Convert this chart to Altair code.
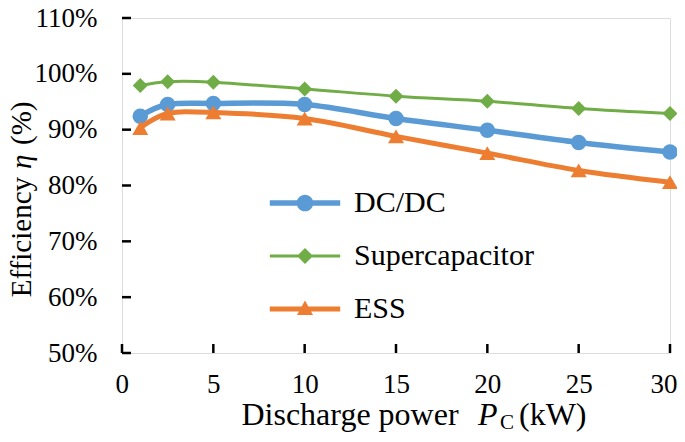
import pandas as pd
import altair as alt

# discharge power (kW) and efficiency (%)
power = [1, 2.5, 5, 10, 15, 20, 25, 30]
dcdc = [92.4, 94.5, 94.7, 94.5, 92.0, 89.9, 87.7, 86.0]
supercap = [97.9, 98.6, 98.5, 97.3, 96.0, 95.1, 93.8, 92.9]
ess = [90.3, 92.9, 93.1, 92.0, 88.8, 85.8, 82.7, 80.6]

series_names = ["DC/DC", "Supercapacitor", "ESS"]
x_ticks = [0, 5, 10, 15, 20, 25, 30]
y_ticks = [50, 60, 70, 80, 90, 100, 110]

FONT = "Liberation Serif, Times New Roman, serif"
W, H = 548, 335

styles = {
    "DC/DC": dict(color="#5B9BD5", width=5.5, shape="circle", size=240, bar=0.34,
                  marker="M1.04,0A1.04,1.04,0,1,1,-1.04,0A1.04,1.04,0,1,1,1.04,0Z"),
    "Supercapacitor": dict(color="#70AD47", width=3, shape="diamond", size=225, bar=0.19,
                           marker="M0,-1L1,0L0,1L-1,0Z"),
    "ESS": dict(color="#ED7D31", width=5, shape="triangle-up", size=256, bar=0.31,
                marker="M0,-1.05L1,0.75L-1,0.75Z"),
}

x_scale = alt.Scale(domain=[0, 30], nice=False, zero=False)
y_scale = alt.Scale(domain=[50, 110], nice=False, zero=False)

x_axis = alt.Axis(values=x_ticks, title=None, grid=False, ticks=False, domain=False,
                  labelFont=FONT, labelFontSize=27, labelColor="black",
                  labelPadding=18, labelFlush=True, labelFlushOffset=7, labelOverlap=False)
y_axis = alt.Axis(values=y_ticks, title=None, grid=False, ticks=False, domain=False,
                  labelExpr="datum.value + '%'", labelFont=FONT, labelFontSize=27,
                  labelColor="black", labelPadding=25, labelOverlap=False)


def series_layers(name, values):
    st = styles[name]
    df = pd.DataFrame({"power": power, "eff": values})
    base = alt.Chart(df).encode(
        x=alt.X("power:Q", scale=x_scale, axis=x_axis),
        y=alt.Y("eff:Q", scale=y_scale, axis=y_axis),
    )
    line = base.mark_line(color=st["color"], strokeWidth=st["width"], interpolate="cardinal")
    pts = base.mark_point(color=st["color"], shape=st["shape"], size=st["size"],
                          filled=True, opacity=1)
    return [line, pts]


def text_piece(txt, x, y, **kw):
    return alt.Chart(pd.DataFrame({"t": [txt]})).mark_text(
        font=FONT, color="black", baseline="alphabetic", **kw
    ).encode(text="t:N", x=alt.value(x), y=alt.value(y))


def legend_path(name):
    st = styles[name]
    h = st["bar"]
    return f"M-4.4,-{h}H4.4V{h}H-4.4Z" + st["marker"]


# inward ticks
x_tick_marks = alt.Chart(pd.DataFrame({"t": x_ticks})).mark_rule(
    color="black", strokeWidth=2.5
).encode(x=alt.X("t:Q", scale=x_scale, axis=x_axis), y=alt.value(H), y2=alt.value(H - 9))
y_tick_marks = alt.Chart(pd.DataFrame({"t": y_ticks})).mark_rule(
    color="black", strokeWidth=2.5
).encode(y=alt.Y("t:Q", scale=y_scale, axis=y_axis), x=alt.value(0), x2=alt.value(9))

# legend: line + marker glyph per series
legend_df = pd.DataFrame({"series": series_names})
leg = alt.Legend(title=None, orient="none", legendX=168, legendY=170, padding=0,
                 labelFont=FONT, labelFontSize=30, labelColor="black", labelLimit=400,
                 labelOffset=34, rowPadding=23, symbolSize=256, symbolStrokeWidth=0,
                 symbolOpacity=1)
legend_layer = alt.Chart(legend_df).transform_filter("false").mark_point(
    filled=True, opacity=1, strokeWidth=0
).encode(
    color=alt.Color("series:N", scale=alt.Scale(domain=series_names,
                    range=[styles[n]["color"] for n in series_names]), legend=leg),
    shape=alt.Shape("series:N", scale=alt.Scale(domain=series_names,
                    range=[legend_path(n) for n in series_names]), legend=leg),
)

# axis titles with italic symbols
titles = [
    text_piece("Discharge power", 228, 407, fontSize=32, align="center"),
    text_piece("P", 356, 407, fontSize=32, fontStyle="italic", align="left"),
    text_piece("C", 378, 411, fontSize=21, align="left"),
    text_piece("(kW)", 397, 407, fontSize=32, align="left"),
    text_piece("Efficiency", -91, 159, fontSize=29, angle=270, align="right"),
    text_piece("η", -91, 151, fontSize=29, angle=270, fontStyle="italic", align="left"),
    text_piece("(%)", -91, 127, fontSize=29, angle=270, align="left"),
]

layers = [x_tick_marks, y_tick_marks]
for name, vals in zip(series_names, [dcdc, supercap, ess]):
    layers += series_layers(name, vals)
layers += [legend_layer] + titles

chart = alt.layer(*layers).properties(
    width=W, height=H,
    autosize=alt.AutoSizeParams(type="none"),
    padding={"left": 114, "top": 10, "right": 7, "bottom": 80},
).configure_view(stroke="black", strokeWidth=2.5).configure(background="white")

chart.save("out.html", embed_options={"renderer": "svg", "actions": False})
